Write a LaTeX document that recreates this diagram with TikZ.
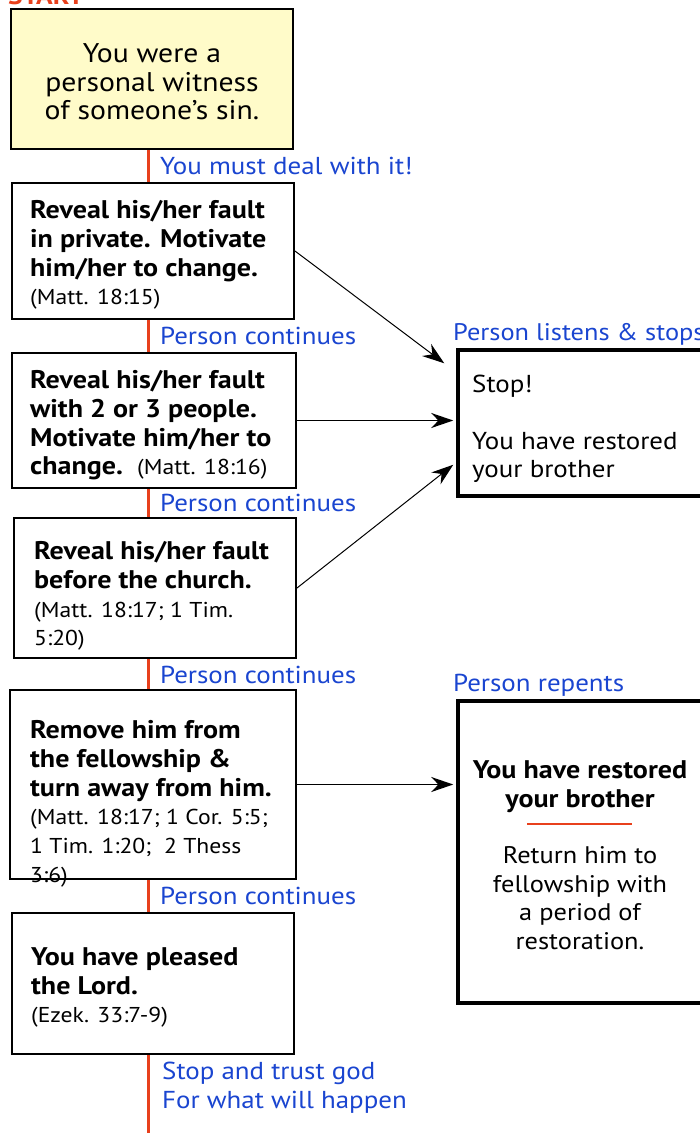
\documentclass[tikz,border=0pt]{standalone}
\usepackage{fontspec}
\setmainfont{PT Sans}[FakeStretch=1.1]
\usetikzlibrary{arrows.meta}
\definecolor{noteyellow}{HTML}{FFFBC9}
\definecolor{pathblue}{HTML}{1A45D0}
\definecolor{pathred}{HTML}{E8401C}
\tikzset{
  stepbox/.style={draw, line width=2pt, inner sep=0pt},
  endbox/.style={draw, line width=3.5pt, inner sep=0pt},
  boxtext/.style={anchor=north west, inner sep=0pt, align=left, font=\fontsize{25.5}{28.7}\selectfont\bfseries},
  pathlabel/.style={text=pathblue, inner sep=0pt, font=\fontsize{24.5}{28.5}\selectfont},
  trunk/.style={pathred, line width=3pt},
  outarrow/.style={-{Stealth[length=22pt,width=15pt]}, line width=1pt},
}
\newcommand{\refnote}[1]{{\mdseries\fontsize{21.5}{28.7}\selectfont #1}}

\begin{document}
\begin{tikzpicture}[x=1pt, y=-1pt]
    \useasboundingbox (0,0) rectangle (700,1133);
    \clip (0,0) rectangle (700,1133);

    % place boxes
    \node[stepbox, fill=noteyellow, minimum width=282, minimum height=140] (start) at (152,79) {};
    \node[stepbox, minimum width=282, minimum height=136] (private)   at (153,251)   {};
    \node[stepbox, minimum width=284, minimum height=135] (witnesses) at (154,420.5) {};
    \node[stepbox, minimum width=282, minimum height=140] (church)    at (155,588)   {};
    \node[stepbox, minimum width=286, minimum height=189] (remove)    at (153,784.5) {};
    \node[stepbox, minimum width=282, minimum height=141] (pleased)   at (153,983.5) {};

    \node[endbox, minimum width=262, minimum height=146] (stopped)  at (589,423) {};
    \node[endbox, minimum width=262, minimum height=302] (repented) at (589,852) {};

    % box texts
    \node[align=center, inner sep=0pt, font=\fontsize{27}{28.5}\selectfont] (starttext) at ([yshift=-3pt]start) {You were a\\personal witness\\of someone’s sin.};
    \node[boxtext] (privatetext)   at (30,200.5) {Reveal his/her fault\\in private. Motivate\\him/her to change.\\\refnote{(Matt. 18:15)}};
    \node[boxtext] (witnessestext) at (30,370.5) {Reveal his/her fault\\with 2 or 3 people.\\Motivate him/her to\\change.~~\refnote{(Matt. 18:16)}};
    \node[boxtext] (churchtext)    at (34,541.5) {Reveal his/her fault\\before the church.\\\refnote{(Matt. 18:17; 1 Tim.}\\\refnote{5:20)}};
    \node[boxtext] (removetext)    at (30,720.5) {Remove him from\\the fellowship \&\\turn away from him.\\\refnote{(Matt. 18:17; 1 Cor. 5:5;}\\\refnote{1 Tim. 1:20;~~2 Thess}\\\refnote{3:6)}};
    \node[boxtext] (pleasedtext)   at (31,947.5) {You have pleased\\the Lord.\\\refnote{(Ezek. 33:7-9)}};

    \node[boxtext, font=\fontsize{24.5}{28.5}\selectfont] (stoppedtext) at (472,374.5) {Stop!\\[28.5pt]You have restored\\your brother};
    \node[anchor=north, align=center, inner sep=0pt, font=\fontsize{25.5}{28.7}\selectfont\bfseries] (repentedhead) at (580,760.5) {You have restored\\your brother};
    \node[anchor=north, align=center, inner sep=0pt, font=\fontsize{24}{28.5}\selectfont] (repentedbody) at (580,846.5) {Return him to\\fellowship with\\a period of\\restoration.};
    \draw[pathred, line width=2.5pt] (527,824) -- (632,824);

    % path labels
    \node[text=pathred, font=\fontsize{25}{28}\selectfont\bfseries, anchor=base west, inner sep=0pt] (startlabel) at (8,4) {START};
    \node[pathlabel, anchor=west] (deal)  at (160,166) {You must deal with it!};
    \node[pathlabel, anchor=west] (cont1) at (160,336) {Person continues};
    \node[pathlabel, anchor=west] (cont2) at (160,503) {Person continues};
    \node[pathlabel, anchor=west] (cont3) at (160,675) {Person continues};
    \node[pathlabel, anchor=west] (cont4) at (160,896) {Person continues};
    \node[pathlabel, anchor=north west, align=left] (trust) at (162,1062) {Stop and trust god\\For what will happen};
    \node[pathlabel, anchor=west, font=\fontsize{24}{28.5}\selectfont] (listens) at (453,334) {Person listens \& stops};
    \node[pathlabel, anchor=west] (repents) at (453,685) {Person repents};

    % draw edges
    \coordinate (spine) at (148,0);
    \coordinate (spine end) at (148,1133);
    \draw[trunk] (start.south -| spine) -- (private.north -| spine);
    \draw[trunk] (private.south -| spine) -- (witnesses.north -| spine);
    \draw[trunk] (witnesses.south -| spine) -- (church.north -| spine);
    \draw[trunk] (church.south -| spine) -- (remove.north -| spine);
    \draw[trunk] (remove.south -| spine) -- (pleased.north -| spine);
    \draw[trunk] (pleased.south -| spine) -- (spine end);

    \draw[outarrow] (private.east) -- ([shift={(-12,15)}]stopped.north west);
    \draw[outarrow, line width=1.8pt, shorten >=3pt] (witnesses.east) -- (witnesses.east -| stopped.west);
    \draw[outarrow] (church.east) -- ([shift={(-3,-33)}]stopped.south west);
    \draw[outarrow, line width=1.8pt, shorten >=3pt] (remove.east) -- (remove.east -| repented.west);
\end{tikzpicture}
\end{document}
